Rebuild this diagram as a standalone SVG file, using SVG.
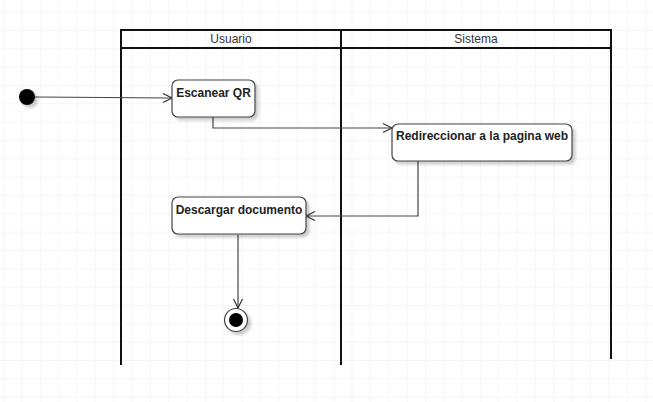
<svg xmlns="http://www.w3.org/2000/svg" width="653" height="402" viewBox="0 0 653 402">
<defs>
<pattern id="grid" x="3.3" y="11.7" width="18.33" height="18.33" patternUnits="userSpaceOnUse">
<path d="M0 0H18.33M0 0V18.33" fill="none" stroke="#ececec" stroke-width="1"/>
</pattern>
<filter id="sh" x="-20%" y="-20%" width="150%" height="160%">
<feGaussianBlur in="SourceAlpha" stdDeviation="1.5"/>
<feOffset dx="3" dy="3" result="b"/>
<feComponentTransfer><feFuncA type="linear" slope="0.2"/></feComponentTransfer>
<feMerge><feMergeNode/><feMergeNode in="SourceGraphic"/></feMerge>
</filter>
<marker id="arr" markerWidth="12" markerHeight="12" refX="10" refY="6" orient="auto" markerUnits="userSpaceOnUse">
<path d="M1 1.5L10 6L1 10.5" fill="none" stroke="#333" stroke-width="1.2"/>
</marker>
</defs>
<style>
.lane{fill:none;stroke:#111;stroke-width:2}
.hd{font-family:"Liberation Sans",Arial,sans-serif;font-size:12px;fill:#333;text-anchor:middle}
.box{fill:#fff;stroke:#444;stroke-width:1.2}
.lbl{font-family:"Liberation Sans",Arial,sans-serif;font-size:12px;font-weight:bold;fill:#222;text-anchor:middle}
.edge{fill:none;stroke:#444;stroke-width:1.2;marker-end:url(#arr)}
</style>
<rect width="653" height="402" fill="#fff"/>
<rect width="653" height="402" fill="url(#grid)"/>

<g id="lanes">
<rect class="lane" x="121" y="30" width="490" height="18"/>
<line class="lane" x1="121" y1="48" x2="121" y2="365"/>
<line class="lane" x1="341" y1="30" x2="341" y2="365"/>
<line class="lane" x1="611" y1="48" x2="611" y2="359"/>
<text class="hd" x="231" y="43">Usuario</text>
<text class="hd" x="476" y="43">Sistema</text>
</g>

<g id="connectors">
<path class="edge" d="M35 97L172 98"/>
<path class="edge" d="M213 117V128H392"/>
<path class="edge" d="M418 161V216H306"/>
<path class="edge" d="M238 235V308"/>
</g>

<g id="start">
<circle cx="27" cy="97" r="8" fill="#000" filter="url(#sh)"/>
</g>

<g id="escanear">
<rect class="box" x="172" y="80" width="83" height="37" rx="6" filter="url(#sh)"/>
<text class="lbl" x="213.5" y="97">Escanear QR</text>
</g>

<g id="redireccionar">
<rect class="box" x="392" y="124" width="180" height="37" rx="6" filter="url(#sh)"/>
<text class="lbl" x="482" y="140">Redireccionar a la pagina web</text>
</g>

<g id="descargar">
<rect class="box" x="172" y="197" width="134" height="37" rx="6" filter="url(#sh)"/>
<text class="lbl" x="239" y="214">Descargar documento</text>
</g>

<g id="end">
<circle cx="236" cy="320" r="11.5" fill="#fff" stroke="#444" stroke-width="1.2" filter="url(#sh)"/>
<circle cx="236" cy="320" r="7" fill="#000"/>
</g>
</svg>
